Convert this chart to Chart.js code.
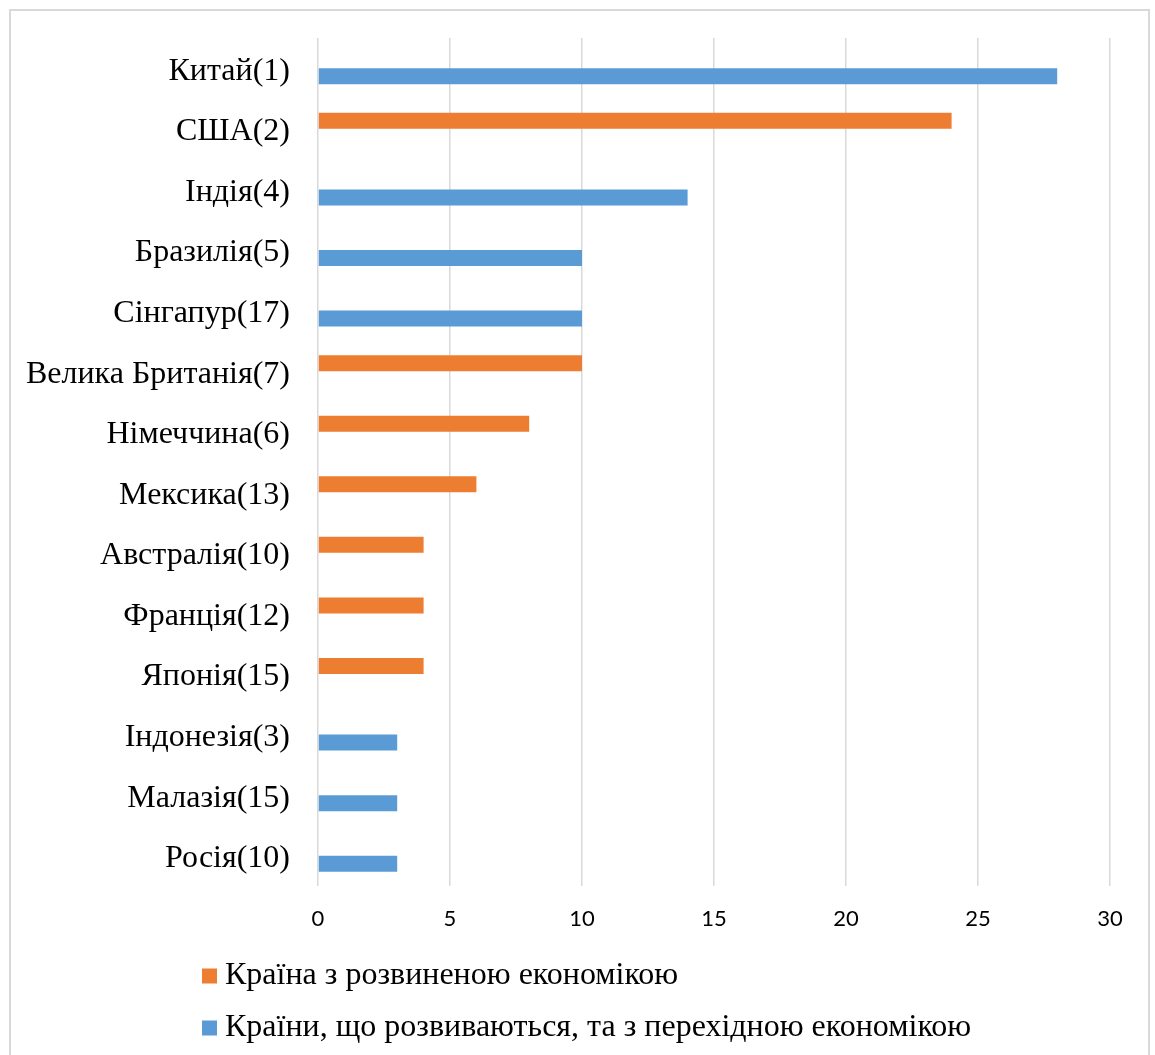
<!DOCTYPE html>
<html>
<head>
<meta charset="utf-8">
<script src="https://cdn.jsdelivr.net/npm/chart.js@4/dist/chart.umd.min.js"></script>
<style>
  html, body { margin: 0; padding: 0; background: #fff; overflow: hidden; }
  #frame {
    position: absolute; left: 9px; top: 9px; width: 1141px; height: 1080px;
    border: 2px solid #d9d9d9; box-sizing: border-box;
  }
  #wrap { position: absolute; left: 0; top: 0; width: 1155px; height: 1055px; }
</style>
</head>
<body>
<div id="frame"></div>
<div id="wrap"><canvas id="c" width="1155" height="1055"></canvas></div>
<script>
// Countries (rank in brackets) and their values by economy group
const categories = [
  'Китай(1)', 'США(2)', 'Індія(4)', 'Бразилія(5)', 'Сінгапур(17)',
  'Велика Британія(7)', 'Німеччина(6)', 'Мексика(13)', 'Австралія(10)',
  'Франція(12)', 'Японія(15)', 'Індонезія(3)', 'Малазія(15)', 'Росія(10)'
];
const developed = [null, 24, null, null, null, 10, 8, 6, 4, 4, 4, null, null, null];
const developing = [28, null, 14, 10, 10, null, null, null, null, null, null, 3, 3, 3];
const seriesNames = [
  'Країна з розвиненою економікою',
  'Країни, що розвиваються, та з перехідною економікою'
];
const xTicks = [0, 5, 10, 15, 20, 25, 30];

const ORANGE = '#ED7D31';
const BLUE = '#5B9BD5';
const SERIF = '"Liberation Serif", "Times New Roman", serif';

// Legend stacked vertically, left-aligned below the plot
const stackedLegend = {
  id: 'stackedLegend',
  afterDraw(chart) {
    const ctx = chart.ctx;
    const x0 = 202, rowY = [976, 1028], box = 15;
    ctx.save();
    ctx.font = '32px ' + SERIF;
    ctx.textBaseline = 'middle';
    ctx.textAlign = 'left';
    chart.data.datasets.forEach((ds, i) => {
      ctx.fillStyle = ds.backgroundColor;
      ctx.fillRect(x0, rowY[i] - box / 2, box, box);
      ctx.fillStyle = '#000';
      ctx.fillText(ds.label, x0 + box + 8, rowY[i]);
    });
    ctx.restore();
  }
};

new Chart(document.getElementById('c'), {
  type: 'bar',
  data: {
    labels: categories,
    datasets: [
      { label: seriesNames[0], data: developed, backgroundColor: ORANGE },
      { label: seriesNames[1], data: developing, backgroundColor: BLUE }
    ]
  },
  options: {
    indexAxis: 'y',
    responsive: false,
    animation: false,
    categoryPercentage: 0.528,
    barPercentage: 1.0,
    layout: { padding: { top: 38, right: 45, left: 0, bottom: 0 } },
    plugins: {
      legend: { display: false },
      tooltip: { enabled: false }
    },
    scales: {
      x: {
        min: 0, max: 30,
        afterBuildTicks(scale) { scale.ticks = xTicks.map(v => ({ value: v })); },
        afterFit(scale) {
          scale.height = 1055 - 886;
          scale.paddingLeft = 0; scale.paddingRight = 0;
        },
        grid: { color: '#d9d9d9', lineWidth: 1.5, drawTicks: false },
        border: { display: false },
        ticks: {
          padding: 20,
          color: '#000',
          font: { family: 'Lato, "Open Sans", sans-serif', size: 22 }
        }
      },
      y: {
        afterFit(scale) {
          scale.width = 318;
          scale.paddingTop = 0; scale.paddingBottom = 0;
        },
        grid: { display: false, drawTicks: false },
        border: { display: false },
        ticks: {
          padding: 28,
          labelOffset: 3,
          color: '#000',
          font: { family: SERIF, size: 32 }
        }
      }
    }
  },
  plugins: [stackedLegend]
});
</script>
</body>
</html>
